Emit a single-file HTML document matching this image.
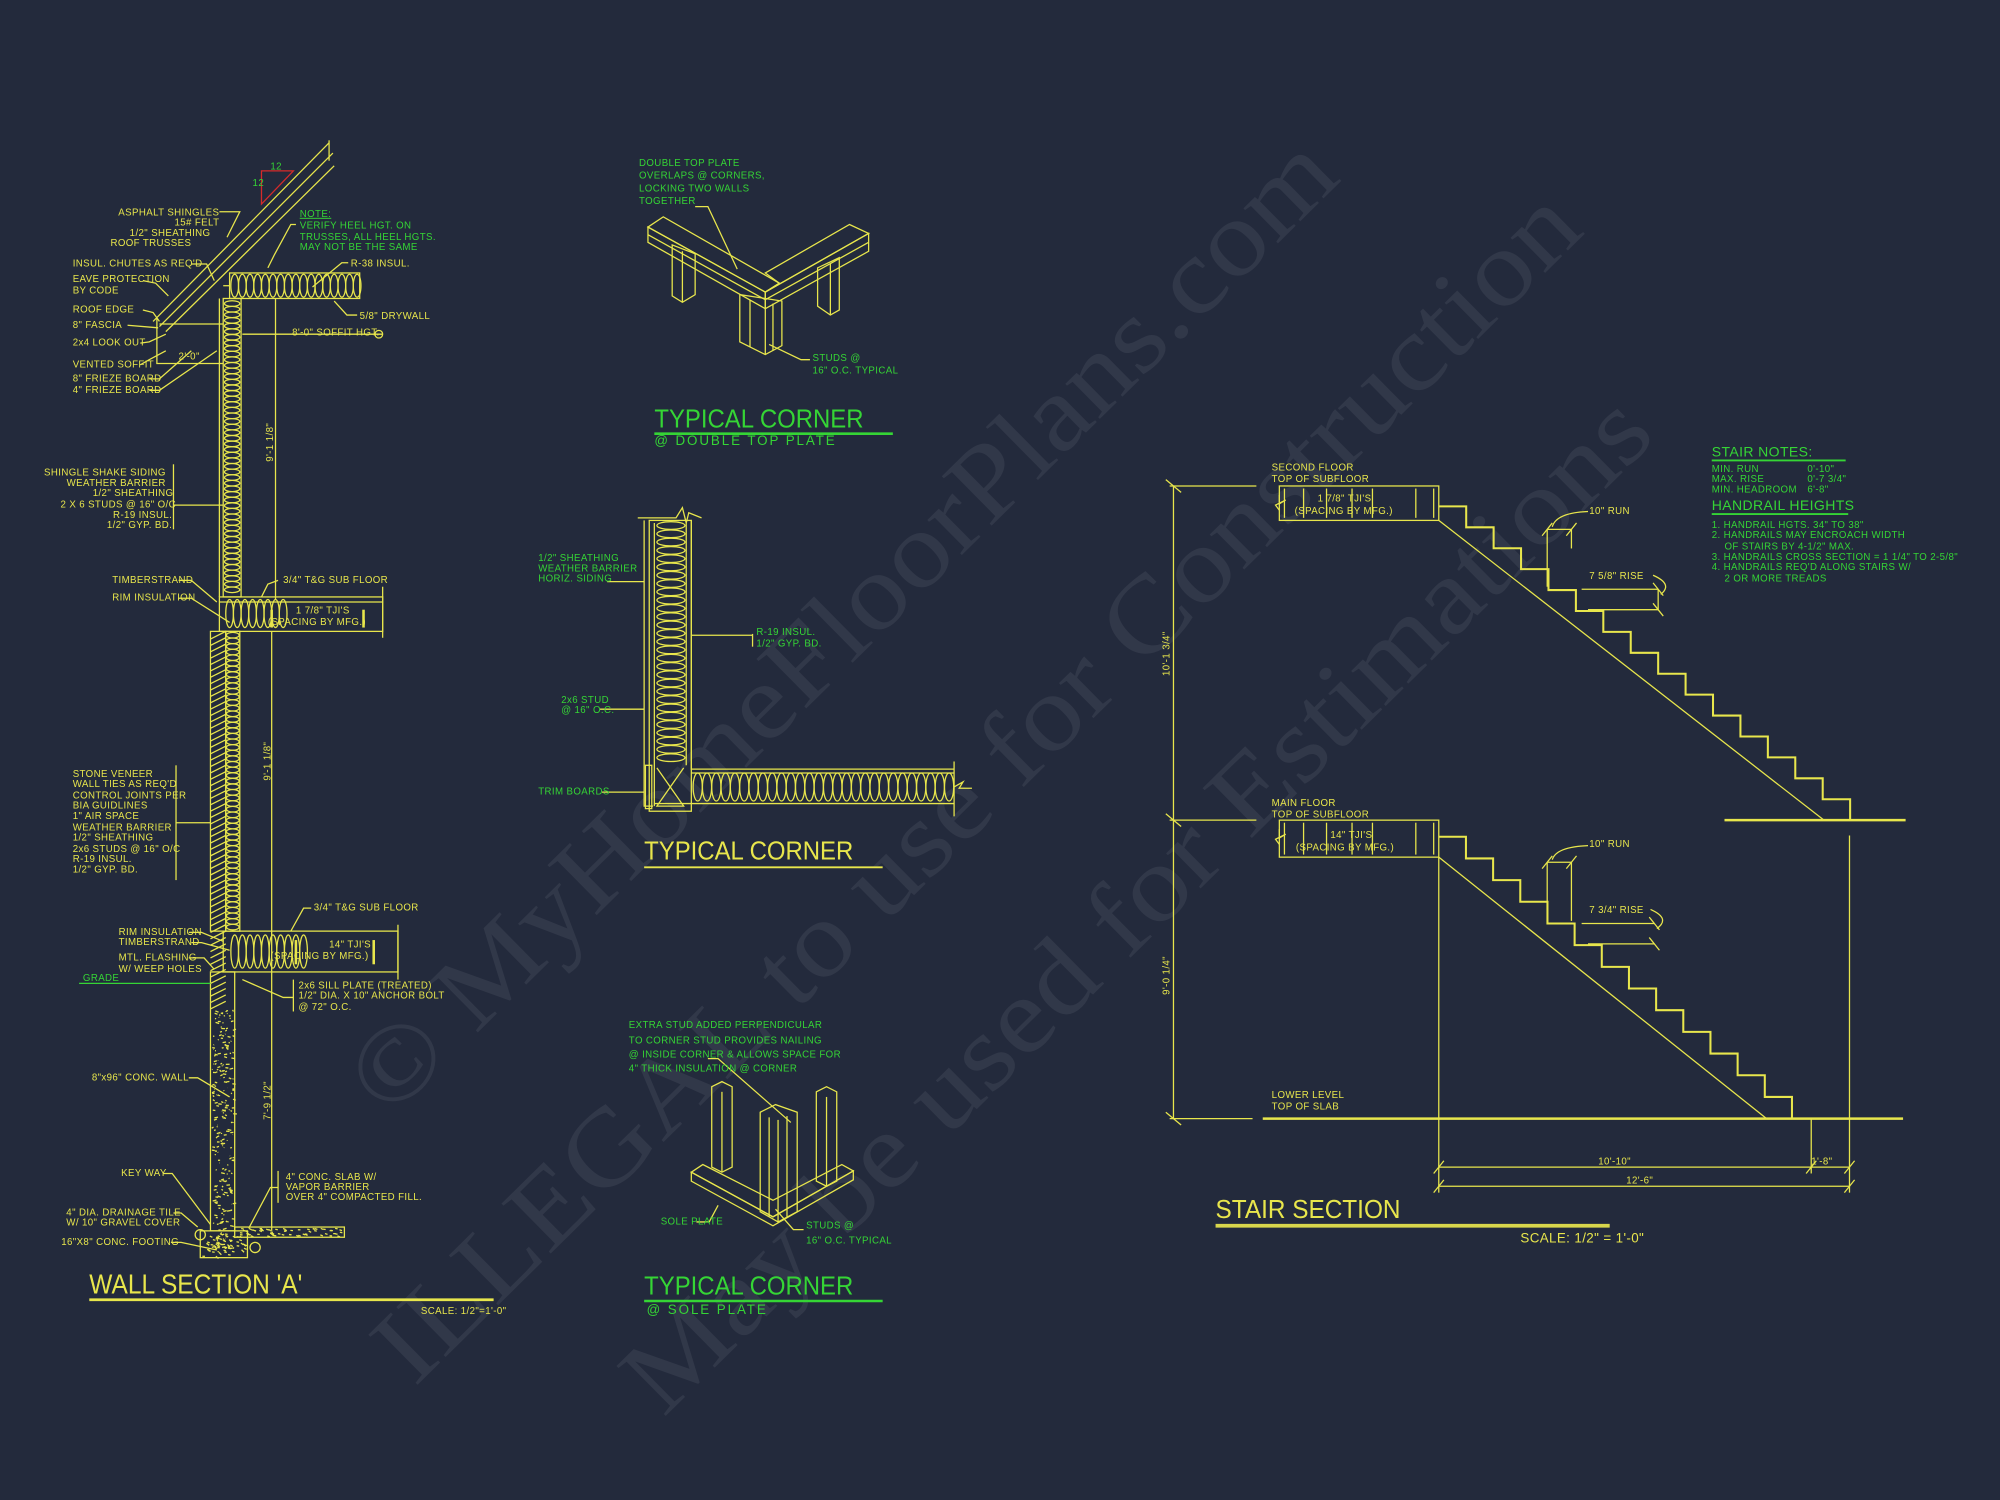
<!DOCTYPE html>
<html><head><meta charset="utf-8"><style>
html,body{margin:0;padding:0;background:#232a3c;}
svg{display:block}
text{font-family:"Liberation Sans",sans-serif;}
.y{fill:#e8e64c}.g{fill:#35d535}
.s{font-size:7.6px;letter-spacing:0.3px}
.ly{stroke:#e8e64c;fill:none;stroke-width:1}
.lg{stroke:#35d535;fill:none;stroke-width:1}
</style></head><body>
<svg id="v" width="2000" height="1500" viewBox="0 0 1568 1176" xmlns="http://www.w3.org/2000/svg">
<rect width="1568" height="1176" fill="#232a3c"/>
<!-- watermark -->
<g fill="rgba(210,210,225,0.085)" font-family="Liberation Serif,serif" font-size="84">
<text transform="translate(305,878) rotate(-44.6)" textLength="1050" lengthAdjust="spacingAndGlyphs" style="font-family:'Liberation Serif',serif">© MyHomeFloorPlans.com</text>
<text transform="translate(325,1088) rotate(-44.6)" textLength="1290" lengthAdjust="spacingAndGlyphs" style="font-family:'Liberation Serif',serif">ILLEGAL to use for Construction</text>
<text transform="translate(520,1112) rotate(-44.6)" textLength="1095" lengthAdjust="spacingAndGlyphs" style="font-family:'Liberation Serif',serif">May be used for Estimations</text>
</g>
<g id="geo" class="ly"></g>

<!-- ===== WALL SECTION ===== -->
<g class="ly">
<polyline points="120,252 258,112"/><polyline points="125,256 261,120"/><polyline points="130,260 262,130"/>
<line x1="258" y1="110" x2="258" y2="126"/>
<polygon points="205,134 230,134 205,160" stroke="#d62a2a"/>
<rect x="180" y="214" width="102" height="20"/>
<line x1="180" y1="224" x2="175" y2="224"/>
<polyline points="123,249 123,285 175,285"/><line x1="125" y1="254" x2="175" y2="254"/>
<line x1="190" y1="262" x2="300" y2="262"/>
<circle cx="297" cy="262" r="3"/>
<line x1="216" y1="234" x2="216" y2="470"/>
<rect x="175" y="234" width="14" height="234"/>
<line x1="172" y1="234" x2="172" y2="468"/>
<!-- upper floor -->
<rect x="172" y="468" width="128" height="27"/>
<line x1="172" y1="472" x2="300" y2="472"/>
<line x1="300" y1="460" x2="300" y2="500"/>
<line x1="213" y1="478" x2="213" y2="492" stroke-width="2"/><line x1="285" y1="478" x2="285" y2="492" stroke-width="2"/>
<!-- lower wall -->
<rect x="165" y="495" width="12" height="235"/>
<rect x="177" y="495" width="11" height="235"/>
<line x1="213" y1="495" x2="213" y2="965"/>
<!-- lower floor -->
<rect x="175" y="730" width="137" height="32"/>
<line x1="312" y1="725" x2="312" y2="768"/>
<line x1="232" y1="737" x2="232" y2="756" stroke-width="2"/><line x1="293" y1="737" x2="293" y2="756" stroke-width="2"/>
<!-- foundation -->
<rect x="165" y="762" width="19" height="203"/>
<rect x="157" y="965" width="37" height="21"/>
<rect x="184" y="962" width="86" height="8"/>
<circle cx="157" cy="968" r="4"/><circle cx="200" cy="978" r="4"/>
<!-- leaders -->
<polyline points="172,166 188,166 178,186"/>
<polyline points="150,207 162,207 168,220"/>
<polyline points="112,220 122,222 132,232"/>
<polyline points="112,243 120,245 125,252"/>
<polyline points="100,255 124,257"/>
<polyline points="110,269 117,268 130,262"/>
<polyline points="110,286 117,282 130,275"/>
<polyline points="117,297 125,297 150,275"/>
<polyline points="117,306 125,306 170,275"/>
<polyline points="232,176 228,176 215,200 210,210"/>
<polyline points="273,206 268,206 245,225"/>
<polyline points="280,247 272,247 262,236"/>
<line x1="136" y1="364" x2="136" y2="415"/><line x1="136" y1="396" x2="175" y2="396"/>
<polyline points="140,455 150,455 170,472"/>
<polyline points="140,469 150,469 180,488"/>
<polyline points="218,455 210,458 205,468"/>
<line x1="138" y1="600" x2="138" y2="690"/><line x1="138" y1="645" x2="165" y2="645"/>
<polyline points="148,731 158,731 175,738"/>
<polyline points="150,739 158,739 180,745"/>
<polyline points="148,751 160,751 168,760"/>
<polyline points="244,712 238,712 228,730"/>
<line x1="230" y1="768" x2="230" y2="793"/><polyline points="230,782 222,782 190,768"/>
<polyline points="148,845 155,845 180,860"/>
<polyline points="128,920 135,920 165,960"/>
<polyline points="136,951 142,951 155,962"/>
<polyline points="134,974 142,974 170,980"/>
<line x1="218" y1="918" x2="218" y2="943"/><polyline points="218,931 212,931 195,963"/>
</g>
<line x1="62" y1="771" x2="165" y2="771" stroke="#35d535"/>
<line x1="70" y1="1019" x2="387" y2="1019" stroke="#e8e64c" stroke-width="2.2"/>
<g class="y s">
<text x="12" y="0" style="display:none">.</text>
<text x="172" y="169" text-anchor="end">ASPHALT SHINGLES</text>
<text x="172" y="177" text-anchor="end">15# FELT</text>
<text x="165" y="185" text-anchor="end">1/2" SHEATHING</text>
<text x="150" y="193" text-anchor="end">ROOF TRUSSES</text>
<text x="57" y="209">INSUL. CHUTES AS REQ'D</text>
<text x="57" y="221">EAVE PROTECTION</text>
<text x="57" y="230">BY CODE</text>
<text x="57" y="245">ROOF EDGE</text>
<text x="57" y="257">8" FASCIA</text>
<text x="57" y="271">2x4 LOOK OUT</text>
<text x="57" y="288">VENTED SOFFIT</text>
<text x="57" y="299">8" FRIEZE BOARD</text>
<text x="57" y="308">4" FRIEZE BOARD</text>
<text x="140" y="282">2'-0"</text>
<text x="229" y="263">8'-0" SOFFIT HGT.</text>
<text x="275" y="209">R-38 INSUL.</text>
<text x="282" y="250">5/8" DRYWALL</text>
<text x="130" y="373" text-anchor="end">SHINGLE SHAKE SIDING</text>
<text x="130" y="381" text-anchor="end">WEATHER BARRIER</text>
<text x="136" y="389" text-anchor="end">1/2" SHEATHING</text>
<text x="138" y="398" text-anchor="end">2 X 6 STUDS @ 16" O/C</text>
<text x="135" y="406" text-anchor="end">R-19 INSUL.</text>
<text x="135" y="414" text-anchor="end">1/2" GYP. BD.</text>
<text x="88" y="457">TIMBERSTRAND</text>
<text x="88" y="471">RIM INSULATION</text>
<text x="222" y="457">3/4" T&amp;G SUB FLOOR</text>
<text x="232" y="481">1 7/8" TJI'S</text>
<text x="210" y="490">(SPACING BY MFG.)</text>
<text x="57" y="609">STONE VENEER</text>
<text x="57" y="617">WALL TIES AS REQ'D</text>
<text x="57" y="626">CONTROL JOINTS PER</text>
<text x="57" y="634">BIA GUIDLINES</text>
<text x="57" y="642">1" AIR SPACE</text>
<text x="57" y="651">WEATHER BARRIER</text>
<text x="57" y="659">1/2" SHEATHING</text>
<text x="57" y="668">2x6 STUDS @ 16" O/C</text>
<text x="57" y="676">R-19 INSUL.</text>
<text x="57" y="684">1/2" GYP. BD.</text>
<text x="246" y="714">3/4" T&amp;G SUB FLOOR</text>
<text x="93" y="733">RIM INSULATION</text>
<text x="93" y="741">TIMBERSTRAND</text>
<text x="93" y="753">MTL. FLASHING</text>
<text x="93" y="762">W/ WEEP HOLES</text>
<text x="258" y="743">14" TJI'S</text>
<text x="212" y="752">(SPACING BY MFG.)</text>
<text x="234" y="775">2x6 SILL PLATE (TREATED)</text>
<text x="234" y="783">1/2" DIA. X 10" ANCHOR BOLT</text>
<text x="234" y="792">@ 72" O.C.</text>
<text x="72" y="847">8"x96" CONC. WALL</text>
<text x="95" y="922">KEY WAY</text>
<text x="224" y="925">4" CONC. SLAB W/</text>
<text x="224" y="933">VAPOR BARRIER</text>
<text x="224" y="941">OVER 4" COMPACTED FILL.</text>
<text x="52" y="953">4" DIA. DRAINAGE TILE</text>
<text x="52" y="961">W/ 10" GRAVEL COVER</text>
<text x="48" y="976">16"X8" CONC. FOOTING</text>
<text x="330" y="1030">SCALE: 1/2"=1'-0"</text>
<text transform="translate(214,362) rotate(-90)">9'-1 1/8"</text>
<text transform="translate(212,612) rotate(-90)">9'-1 1/8"</text>
<text transform="translate(212,878) rotate(-90)">7'-9 1/2"</text>
</g>
<g class="g s">
<text x="198" y="146">12</text><text x="212" y="133">12</text>
<text x="235" y="170" text-decoration="underline">NOTE:</text>
<text x="235" y="179">VERIFY HEEL HGT. ON</text>
<text x="235" y="188">TRUSSES, ALL HEEL HGTS.</text>
<text x="235" y="196">MAY NOT BE THE SAME</text>
<text x="65" y="769">GRADE</text>
</g>
<text x="70" y="1014" class="y" font-size="21.5" textLength="167" lengthAdjust="spacingAndGlyphs">WALL SECTION 'A'</text>

<!-- ===== TYPICAL CORNER TOP ===== -->
<g class="ly">
<polygon points="508,178 520,170 611,222 600,229"/>
<polygon points="600,229 681,183 666,176 600,214 611,222"/>
<polygon points="508,178 600,229 600,242 508,190"/>
<line x1="508" y1="184" x2="600" y2="235"/>
<polygon points="600,229 681,183 681,197 600,242"/>
<line x1="600" y1="235" x2="681" y2="190"/>
<polygon points="527,192 527,232 535,237 545,231 545,199"/>
<line x1="535" y1="197" x2="535" y2="237"/>
<polygon points="641,210 641,240 651,247 658,243 658,202"/>
<line x1="651" y1="207" x2="651" y2="247"/>
<polygon points="580,231 580,268 600,278 613,271 613,236"/>
<line x1="588" y1="235" x2="588" y2="272"/><line x1="600" y1="242" x2="600" y2="278"/><line x1="606" y1="238" x2="606" y2="275"/>
<polyline points="545,162 555,162 578,211"/>
<polyline points="635,282 628,282 603,270"/>
</g>
<g class="g s" font-size="7">
<text x="501" y="130">DOUBLE TOP PLATE</text>
<text x="501" y="140">OVERLAPS @ CORNERS,</text>
<text x="501" y="150">LOCKING TWO WALLS</text>
<text x="501" y="160">TOGETHER</text>
<text x="637" y="283">STUDS @</text>
<text x="637" y="293">16" O.C. TYPICAL</text>
<text x="513" y="349" font-size="10.5" letter-spacing="1.5">@ DOUBLE TOP PLATE</text>
</g>
<text x="513" y="335" class="g" font-size="20" textLength="164" lengthAdjust="spacingAndGlyphs">TYPICAL CORNER</text>
<line x1="513" y1="340" x2="700" y2="340" stroke="#35d535" stroke-width="2"/>

<!-- ===== TYPICAL CORNER MIDDLE ===== -->
<g class="ly">
<polyline points="505,408 505,632 512,632"/>
<rect x="509" y="408" width="33" height="228"/>
<line x1="513" y1="410" x2="513" y2="632"/>
<line x1="538" y1="410" x2="538" y2="600"/>
<polyline points="500,406 530,406 535,398 538,410 540,402 550,406"/>
<polyline points="542,408 542,603 748,603"/>
<line x1="542" y1="606" x2="748" y2="606"/>
<line x1="513" y1="630" x2="748" y2="630"/>
<line x1="509" y1="636" x2="690" y2="636" stroke-width="0"/>
<line x1="748" y1="597" x2="748" y2="640"/>
<polyline points="748,617 755,613 752,618 762,618"/>
<polygon points="506,600 506,634 511,634 511,600"/>
<polyline points="476,456 505,456"/>
<polyline points="590,497 590,507"/><line x1="590" y1="498" x2="542" y2="498"/>
<line x1="505" y1="556" x2="470" y2="556"/>
<line x1="505" y1="621" x2="472" y2="621"/>
</g>
<g class="g s" font-size="7">
<text x="422" y="440">1/2" SHEATHING</text>
<text x="422" y="448">WEATHER BARRIER</text>
<text x="422" y="456">HORIZ. SIDING</text>
<text x="593" y="498">R-19 INSUL.</text>
<text x="593" y="507">1/2" GYP. BD.</text>
<text x="440" y="551">2x6 STUD</text>
<text x="440" y="559">@ 16" O.C.</text>
<text x="422" y="623">TRIM BOARDS</text>
</g>
<text x="505" y="674" class="y" font-size="20" textLength="164" lengthAdjust="spacingAndGlyphs">TYPICAL CORNER</text>
<line x1="505" y1="680" x2="692" y2="680" stroke="#e8e64c" stroke-width="1.5"/>

<!-- ===== TYPICAL CORNER BOTTOM ===== -->
<g class="ly">
<polygon points="542,919 551,913 606,941 660,913 669,918 606,954"/>
<polygon points="542,919 606,954 669,918 669,925 606,961 542,926"/>
<polygon points="558,852 566,848 574,852 574,915 566,919 558,915"/>
<line x1="566" y1="856" x2="566" y2="919"/>
<polygon points="596,872 608,866 625,872 625,950 610,958 596,950"/>
<line x1="603" y1="876" x2="603" y2="954"/><line x1="610" y1="878" x2="610" y2="958"/><line x1="617" y1="875" x2="617" y2="954"/>
<polygon points="640,856 648,852 656,856 656,926 648,930 640,926"/>
<line x1="648" y1="860" x2="648" y2="930"/>
<polyline points="555,830 563,830 620,880"/>
<polyline points="546,958 556,958 563,945"/>
<polyline points="630,964 622,964 608,948"/>
</g>
<g class="g s" font-size="7">
<text x="493" y="806">EXTRA STUD ADDED PERPENDICULAR</text>
<text x="493" y="818">TO CORNER STUD PROVIDES NAILING</text>
<text x="493" y="829">@ INSIDE CORNER &amp; ALLOWS SPACE FOR</text>
<text x="493" y="840">4" THICK INSULATION @ CORNER</text>
<text x="518" y="960">SOLE PLATE</text>
<text x="632" y="963">STUDS @</text>
<text x="632" y="975">16" O.C. TYPICAL</text>
<text x="507" y="1030" font-size="10.5" letter-spacing="1.5">@ SOLE PLATE</text>
</g>
<text x="505" y="1015" class="g" font-size="20" textLength="164" lengthAdjust="spacingAndGlyphs">TYPICAL CORNER</text>
<line x1="505" y1="1020" x2="692" y2="1020" stroke="#35d535" stroke-width="2"/>

<!-- ===== STAIR SECTION ===== -->
<g class="ly">
<line x1="920" y1="381" x2="920" y2="877"/>
<line x1="914" y1="376" x2="926" y2="386"/><line x1="914" y1="638" x2="926" y2="648"/><line x1="914" y1="872" x2="926" y2="882"/>
<line x1="917" y1="381" x2="985" y2="381"/><line x1="917" y1="643" x2="985" y2="643"/><line x1="917" y1="877" x2="982" y2="877"/>
<rect x="1003" y="381" width="125" height="27"/>
<rect x="1003" y="643" width="125" height="29"/>
<line x1="1128" y1="408" x2="1430" y2="643"/>
<line x1="1128" y1="672" x2="1385" y2="877"/>
<line x1="1128" y1="672" x2="1128" y2="935"/>
<line x1="1450" y1="655" x2="1450" y2="935"/>
<line x1="1420" y1="877" x2="1420" y2="920"/>
<line x1="1128" y1="915" x2="1450" y2="915"/>
<line x1="1128" y1="930" x2="1450" y2="930"/>
<line x1="1124" y1="920" x2="1132" y2="910"/><line x1="1416" y1="920" x2="1424" y2="910"/><line x1="1446" y1="920" x2="1454" y2="910"/>
<line x1="1124" y1="935" x2="1132" y2="925"/><line x1="1446" y1="935" x2="1454" y2="925"/>
<!-- run/rise dims upper -->
<line x1="1213" y1="415" x2="1213" y2="460"/><line x1="1232" y1="415" x2="1232" y2="430"/>
<line x1="1209" y1="420" x2="1217" y2="410"/><line x1="1228" y1="420" x2="1236" y2="410"/>
<line x1="1213" y1="415" x2="1232" y2="415"/>
<path d="M1217,413 Q1220,402 1245,401"/>
<line x1="1240" y1="462" x2="1300" y2="462"/><line x1="1245" y1="478" x2="1300" y2="478"/>
<line x1="1296" y1="457" x2="1304" y2="467"/><line x1="1296" y1="473" x2="1304" y2="483"/>
<line x1="1300" y1="462" x2="1300" y2="478"/>
<path d="M1302,466 Q1312,458 1296,451"/>
<!-- lower -->
<line x1="1213" y1="676" x2="1213" y2="722"/><line x1="1232" y1="676" x2="1232" y2="722"/>
<line x1="1209" y1="681" x2="1217" y2="671"/><line x1="1228" y1="681" x2="1236" y2="671"/>
<line x1="1213" y1="676" x2="1232" y2="676"/>
<path d="M1217,674 Q1220,664 1245,663"/>
<line x1="1240" y1="724" x2="1297" y2="724"/><line x1="1245" y1="740" x2="1297" y2="740"/>
<line x1="1293" y1="719" x2="1301" y2="729"/><line x1="1293" y1="735" x2="1301" y2="745"/>
<path d="M1299,728 Q1310,720 1294,713"/>
</g>
<line x1="1352" y1="643" x2="1494" y2="643" stroke="#e8e64c" stroke-width="2"/>
<line x1="990" y1="877" x2="1492" y2="877" stroke="#e8e64c" stroke-width="2"/>
<line x1="953" y1="961" x2="1262" y2="961" stroke="#d8d64c" stroke-width="3"/>
<g class="y s">
<text x="997" y="369">SECOND FLOOR</text>
<text x="997" y="378">TOP OF SUBFLOOR</text>
<text x="1033" y="393">1 7/8" TJI'S</text>
<text x="1015" y="403">(SPACING BY MFG.)</text>
<text x="997" y="632">MAIN FLOOR</text>
<text x="997" y="641">TOP OF SUBFLOOR</text>
<text x="1043" y="657">14" TJI'S</text>
<text x="1016" y="667">(SPACING BY MFG.)</text>
<text x="1246" y="403">10" RUN</text>
<text x="1246" y="454">7 5/8" RISE</text>
<text x="1246" y="664">10" RUN</text>
<text x="1246" y="716">7 3/4" RISE</text>
<text x="997" y="861">LOWER LEVEL</text>
<text x="997" y="870">TOP OF SLAB</text>
<text x="1253" y="913">10'-10"</text>
<text x="1420" y="913">1'-8"</text>
<text x="1275" y="928">12'-6"</text>
<text transform="translate(917,530) rotate(-90)">10'-1 3/4"</text>
<text transform="translate(917,780) rotate(-90)">9'-0 1/4"</text>
<text x="1192" y="974" font-size="10.5">SCALE: 1/2" = 1'-0"</text>
</g>
<text x="953" y="955" class="y" font-size="20" textLength="145" lengthAdjust="spacingAndGlyphs">STAIR SECTION</text>
<g class="g s" font-size="7">
<text x="1342" y="358" font-size="11">STAIR NOTES:</text>
<text x="1342" y="370">MIN. RUN</text><text x="1417" y="370">0'-10"</text>
<text x="1342" y="378">MAX. RISE</text><text x="1417" y="378">0'-7 3/4"</text>
<text x="1342" y="386">MIN. HEADROOM</text><text x="1417" y="386">6'-8"</text>
<text x="1342" y="400" font-size="11">HANDRAIL HEIGHTS</text>
<text x="1342" y="414">1. HANDRAIL HGTS. 34" TO 38"</text>
<text x="1342" y="422">2. HANDRAILS MAY ENCROACH WIDTH</text>
<text x="1352" y="431">OF STAIRS BY 4-1/2" MAX.</text>
<text x="1342" y="439">3. HANDRAILS CROSS SECTION = 1 1/4" TO 2-5/8"</text>
<text x="1342" y="447">4. HANDRAILS REQ'D ALONG STAIRS W/</text>
<text x="1352" y="456">2 OR MORE TREADS</text>
</g>
<line x1="1342" y1="361" x2="1447" y2="361" stroke="#35d535" stroke-width="1.5"/>
<line x1="1342" y1="403" x2="1449" y2="403" stroke="#35d535" stroke-width="1.5"/>
</svg>
<script>
(function(){
var NS="http://www.w3.org/2000/svg",g=document.getElementById("geo");
function el(t,a){var e=document.createElementNS(NS,t);for(var k in a)e.setAttribute(k,a[k]);g.appendChild(e);return e;}
var i,x,y;
// ceiling insulation loops
for(x=184;x<281;x+=6)el("ellipse",{cx:x,cy:224,rx:3,ry:9});
// upper wall insulation
for(y=238;y<466;y+=4.4)el("ellipse",{cx:182,cy:y,rx:6,ry:2.2});
for(y=498;y<728;y+=4.4)el("ellipse",{cx:182.5,cy:y,rx:5,ry:2.2});
// veneer hatch
for(y=497;y<790;y+=5)el("line",{x1:165,y1:y+4,x2:177,y2:y-2});
// floor insulation
for(x=180;x<228;x+=6){el("ellipse",{cx:x,cy:481,rx:3,ry:11});}
for(x=184;x<240;x+=6){el("ellipse",{cx:x,cy:746,rx:3,ry:13});}
// foundation speckle
var s=7;function r(){s=(s*9301+49297)%233280;return s/233280;}
for(i=0;i<260;i++){var px=166+r()*17,py=792+r()*190;el("line",{x1:px,y1:py,x2:px+r()*3,y2:py+r()*2-1});}
for(i=0;i<60;i++){var px=188+r()*80,py=963+r()*6;el("line",{x1:px,y1:py,x2:px+2,y2:py+r()});}
for(i=0;i<50;i++){var px=158+r()*34,py=967+r()*18;el("line",{x1:px,y1:py,x2:px+2,y2:py+r()*2});}
// middle corner insulation
for(y=412;y<600;y+=6.5)el("ellipse",{cx:526,cy:y,rx:11,ry:3});
for(x=547;x<746;x+=7.3)el("ellipse",{cx:x,cy:617,rx:3.6,ry:11});
el("polyline",{points:"515,602 536,632 515,632 536,602"});
// joist posts in stair boxes
[1007,1022,1040,1060,1076,1110,1124].forEach(function(x){el("line",{x1:x,y1:383,x2:x,y2:406});el("line",{x1:x,y1:645,x2:x,y2:670});});
el("polyline",{points:"1003,388 1003,395 1008,392 1000,396 1003,400"});
el("polyline",{points:"1003,650 1003,657 1008,654 1000,658 1003,662"});
// steps
function steps(x0,y0,n,run,rise){var p=[];x=x0;y=y0;p.push(x+","+y);for(i=0;i<n;i++){x+=run;p.push(x+","+y);y+=rise;p.push(x+","+y);}var e=el("polyline",{points:p.join(" ")});e.setAttribute("stroke-width","1.6");}
steps(1128,397,15,21.5,16.4);
steps(1128,656,13,21.3,17);
})();
</script>
</body></html>
